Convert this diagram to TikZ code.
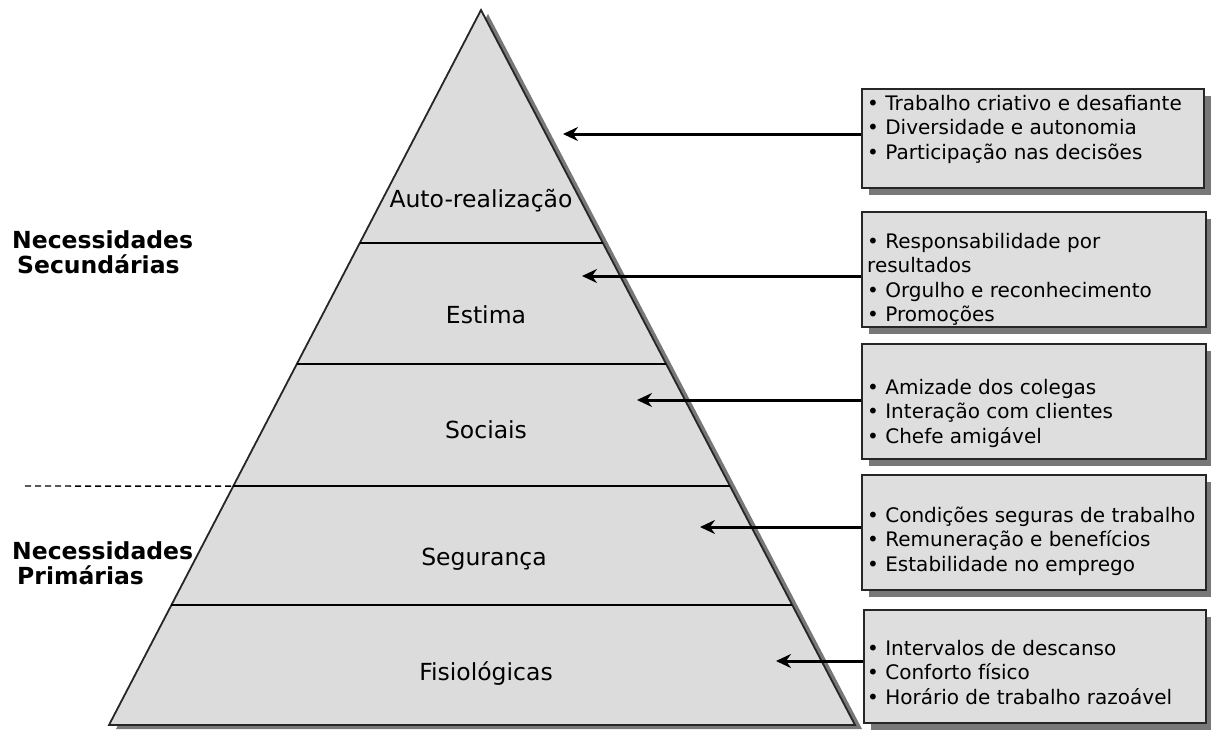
\documentclass[tikz,border=0pt]{standalone}
\usepackage{fontspec}
\setmainfont{DejaVu Sans}
\usetikzlibrary{arrows.meta,shadows,calc}
\definecolor{pyrfill}{RGB}{220,220,220}
\definecolor{boxfill}{RGB}{222,222,222}
\definecolor{shade}{RGB}{120,120,120}
\begin{document}
\begin{tikzpicture}[x=1pt,y=-1pt,>={Stealth[length=15pt,width=14pt,inset=5pt]},
  itembox/.style={draw=black!85,line width=1.8pt,fill=boxfill,anchor=north west,
    drop shadow={shadow xshift=7pt,shadow yshift=-7pt,fill=shade,opacity=1}},
  itemtext/.style={anchor=north west,inner sep=0pt,align=left,
    font=\fontsize{20}{24.5}\selectfont},
  level/.style={font=\fontsize{23.5}{26}\selectfont},
  side/.style={anchor=west,inner sep=0pt,align=left,font=\fontsize{23.5}{27}\selectfont\bfseries},
  pointer/.style={->,line width=3pt}]
\useasboundingbox (0,0) rectangle (1211,729);

% pyramid
\coordinate (top) at (481,10);
\coordinate (bl) at (109,725);
\coordinate (br) at (855,725);
\path[draw=black!85,line width=1.8pt,fill=pyrfill,
  drop shadow={shadow xshift=7pt,shadow yshift=-4pt,fill=shade,opacity=1}]
  (top) -- (bl) -- (br) -- cycle;
\foreach \t/\n in {0.326/a,0.495/b,0.666/c,0.832/d}{
  \coordinate (l\n) at ($(top)!\t!(bl)$);
  \coordinate (r\n) at ($(top)!\t!(br)$);
  \draw[line width=1.8pt] (l\n) -- (r\n);
}
\coordinate (dash) at (25,486);
\draw[dash pattern=on 6pt off 4pt,line width=1.4pt] (dash) -- (lc);

\node[level] (n1) at (481,201) {Auto-realização};
\node[level] (n2) at (486,315) {Estima};
\node[level] (n3) at (486,430) {Sociais};
\node[level] (n4) at (484,559) {Segurança};
\node[level] (n5) at (486,674) {Fisiológicas};

\node[side] (sec) at (12,252) {Necessidades\\[-2pt]\hspace{5pt}Secundárias};
\node[side] (pri) at (12,563) {Necessidades\\[-2pt]\hspace{5pt}Primárias};

% boxes
\node[itembox,minimum width=342pt,minimum height=99pt] (b1) at (861,88) {};
\node[itembox,minimum width=344pt,minimum height=115pt] (b2) at (861,211) {};
\node[itembox,minimum width=344pt,minimum height=115pt] (b3) at (861,343) {};
\node[itembox,minimum width=344pt,minimum height=115pt] (b4) at (861,474) {};
\node[itembox,minimum width=342pt,minimum height=113pt] (b5) at (863,609) {};

\node[itemtext] (t1) at ($(b1.north west)+(6,5)$)
  {\strut• Trabalho criativo e desafiante\\• Diversidade e autonomia\\• Participação nas decisões};
\node[itemtext] (t2) at ($(b2.north west)+(6,20)$)
  {\strut• Responsabilidade por\\resultados\\• Orgulho e reconhecimento\\• Promoções};
\node[itemtext] (t3) at ($(b3.north west)+(6,34)$)
  {\strut• Amizade dos colegas\\• Interação com clientes\\• Chefe amigável};
\node[itemtext] (t4) at ($(b4.north west)+(6,31)$)
  {\strut• Condições seguras de trabalho\\• Remuneração e benefícios\\• Estabilidade no emprego};
\node[itemtext] (t5) at ($(b5.north west)+(4,29)$)
  {\strut• Intervalos de descanso\\• Conforto físico\\• Horário de trabalho razoável};

% arrows
\coordinate (p1) at (563,134);
\coordinate (p2) at (582,276);
\coordinate (p3) at (637,400);
\coordinate (p4) at (700,527);
\coordinate (p5) at (776,661);
\foreach \i in {1,...,5}
  \draw[pointer] (b\i.west |- p\i) -- (p\i);
\end{tikzpicture}
\end{document}
